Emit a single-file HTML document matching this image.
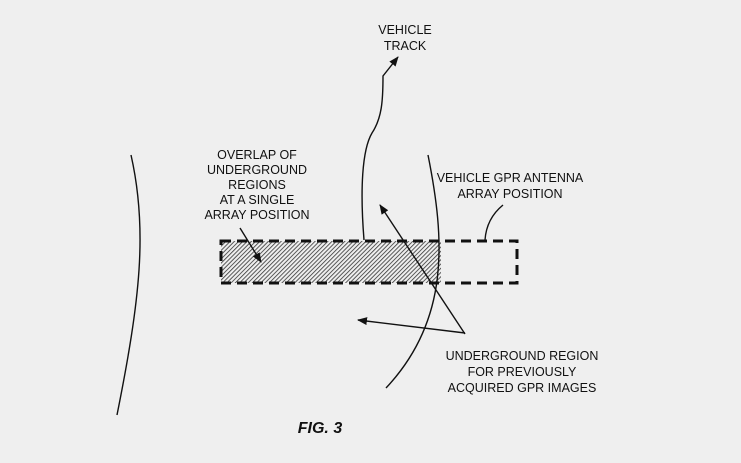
<!DOCTYPE html>
<html><head><style>
body{margin:0;background:#efefef;}
svg{display:block;}
text{font-family:"Liberation Sans",sans-serif;font-size:12.5px;fill:#111;text-anchor:middle;}
</style></head><body>
<svg width="741" height="463" viewBox="0 0 741 463">
<defs>
<pattern id="h" patternUnits="userSpaceOnUse" width="3" height="3" patternTransform="rotate(45)">
<rect width="3" height="3" fill="#eee"/><line x1="0" y1="0" x2="0" y2="3" stroke="#333" stroke-width="1.6"/>
</pattern>
<marker id="a" markerWidth="10" markerHeight="8" refX="9" refY="4" orient="auto" markerUnits="userSpaceOnUse"><path d="M0,0 L10,4 L0,8 Z" fill="#111"/></marker>
</defs>
<rect x="221" y="241" width="220" height="42" fill="url(#h)"/>
<rect x="221" y="241" width="296" height="42" fill="none" stroke="#111" stroke-width="3" stroke-dasharray="10,6"/>
<g fill="none" stroke="#111" stroke-width="1.4">
<path d="M131,155 C148,230 140,300 117,415"/>
<path d="M428,155 C445,240 450,320 386,388"/>
<path d="M364,240 C360,190 362,150 372,133 C382,118 383,100 383,76 L398,57" marker-end="url(#a)"/>
<path d="M465,334 L380,205" marker-end="url(#a)"/>
<path d="M465,333 L358,320" marker-end="url(#a)"/>
<path d="M240,228 L261,262" marker-end="url(#a)"/>
<path d="M485,240 C486,225 492,214 503,205"/>
</g>
<text x="405" y="34">VEHICLE</text>
<text x="405" y="50">TRACK</text>
<text x="257" y="159">OVERLAP OF</text>
<text x="257" y="174">UNDERGROUND</text>
<text x="257" y="189">REGIONS</text>
<text x="257" y="204">AT A SINGLE</text>
<text x="257" y="219">ARRAY POSITION</text>
<text x="510" y="182">VEHICLE GPR ANTENNA</text>
<text x="510" y="198">ARRAY POSITION</text>
<text x="522" y="360">UNDERGROUND REGION</text>
<text x="522" y="376">FOR PREVIOUSLY</text>
<text x="522" y="392">ACQUIRED GPR IMAGES</text>
<text x="320" y="433" style="font-size:16px;font-weight:bold;font-style:italic">FIG. 3</text>
</svg>
</body></html>
